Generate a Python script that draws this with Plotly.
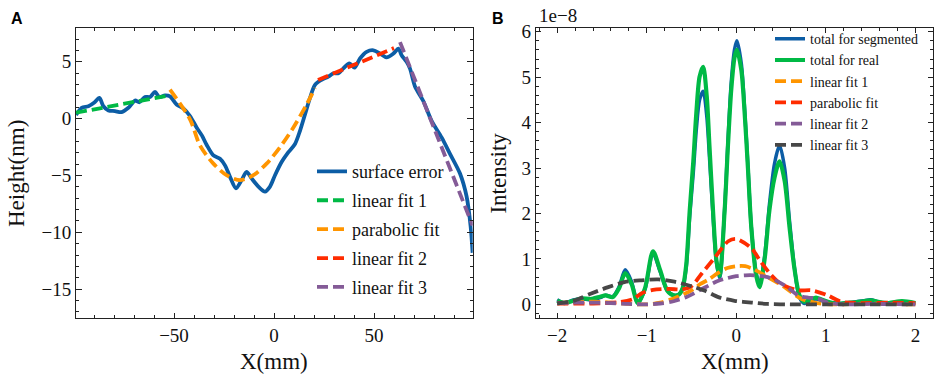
import plotly.graph_objects as go

# ---------------- Panel A data ----------------
surf_x = [-99, -96.2, -92.8, -90, -87.3, -85.3, -82.8, -79.5, -76.2, -72.8, -69.5, -67.3,
          -64.5, -62, -59.5, -57.3, -54.5, -52, -48.7, -45.3, -42, -38.7, -36, -33.7, -30.3,
          -27, -24.5, -22, -19, -16.2, -13.7, -11.2, -7.8, -4.5, -2, 0.5, 3.8, 7.2, 10.5, 13,
          15.5, 18, 20.5, 23.8, 27.2, 29.7, 32.2, 34.7, 37.7, 40.2, 43, 46.3, 49.7, 53, 56.3,
          59.7, 62.2, 63.8, 66.3, 68, 70.5, 74.7, 78.8, 83.8, 88, 93, 96.3, 98.3, 99.3]
surf_y = [0.31, 0.95, 1.09, 1.39, 1.82, 1.09, 0.72, 0.66, 0.57, 0.95, 1.59, 1.44,
          1.9, 1.9, 2.34, 1.9, 2.05, 1.96, 1.24, 0.89, 0.23, -0.78, -1.5, -2.3, -3.24,
          -3.53, -4.11, -5.12, -6.13, -5.41, -4.68, -5.26, -5.98, -6.42, -5.98, -4.98, -3.82, -2.95, -2.23, -1.07,
          0.37, 1.82, 2.97, 3.41, 3.69, 3.99, 3.99, 4.42, 4.86, 4.48, 5.29, 5.87, 6.01, 5.72, 5.38,
          5.72, 6.16, 5.58, 5.0, 4.4, 2.83, 1.53, -0.2, -1.65, -3.1, -4.83, -6.85, -9.45, -11.8]

lin1_x = [-99, -52]
lin1_y = [0.52, 2.05]
para_x = [-52, -42, -37, -30.3, -23.7, -17, -10.3, -3.7, 3, 9.7, 16.3, 20.5]
para_y = [2.54, -0.06, -2.37, -3.96, -4.98, -5.41, -4.98, -3.96, -2.52, -0.78, 1.24, 2.69]
lin2_x = [22, 60]
lin2_y = [3.4, 6.2]
lin3_x = [63, 99.3]
lin3_y = [6.73, -9.4]

# ---------------- Panel B data (units of 1e-8) ----------------
real_x = [-2.0, -1.92, -1.82, -1.73, -1.62, -1.52, -1.46, -1.38, -1.31, -1.24, -1.17, -1.1,
          -1.02, -0.93, -0.85, -0.77, -0.7, -0.64, -0.6, -0.56, -0.52, -0.48, -0.446, -0.41,
          -0.37, -0.33, -0.3, -0.26, -0.223, -0.186, -0.13, -0.093, -0.056, -0.019, 0.007,
          0.056, 0.093, 0.13, 0.167, 0.223, 0.26, 0.316, 0.37, 0.427, 0.483, 0.54, 0.594,
          0.65, 0.706, 0.76, 0.82, 0.89, 0.96, 1.05, 1.17, 1.3, 1.42, 1.5, 1.6, 1.7, 1.85, 2.0]
real_y = [0.08, 0.03, 0.08, 0.13, 0.12, 0.17, 0.2, 0.16, 0.35, 0.69, 0.45, 0.03,
          0.35, 1.17, 0.75, 0.3, 0.2, 0.22, 0.35, 0.85, 2.07, 3.15, 4.22, 5.01,
          5.23, 4.58, 3.5, 2.07, 0.99, 0.63, 2.07, 3.5, 4.73, 5.44, 5.6,
          5.16, 4.22, 3.0, 1.71, 0.63, 0.38, 0.99, 2.07, 2.79, 3.15, 2.72, 1.71,
          0.78, 0.2, 0.06, 0.1, 0.15, 0.1, 0.04, 0.02, 0.04, 0.07, 0.09, 0.05, 0.03, 0.07, 0.03]
seg_y = [0.1, 0.03, 0.1, 0.12, 0.1, 0.15, 0.2, 0.17, 0.38, 0.76, 0.5, 0.03,
         0.33, 1.12, 0.72, 0.3, 0.2, 0.22, 0.35, 0.8, 1.95, 2.9, 3.85, 4.5,
         4.69, 4.15, 3.25, 1.95, 0.95, 0.58, 2.1, 3.6, 4.9, 5.62, 5.8,
         5.3, 4.3, 3.05, 1.72, 0.68, 0.45, 1.05, 2.2, 3.1, 3.5, 3.0, 1.85,
         0.8, 0.15, 0.02, 0.08, 0.12, 0.08, 0.04, 0.02, 0.05, 0.08, 0.1, 0.05, 0.03, 0.05, 0.03]

fit1_x = [-2.0, -1.8, -1.6, -1.4, -1.2, -1.0, -0.85, -0.7, -0.5, -0.4, -0.3, -0.2, -0.1, 0.0,
          0.1, 0.2, 0.35, 0.54, 0.72, 0.9, 1.1, 1.3, 1.5, 1.7, 2.0]
fit1_y = [0.03, 0.05, 0.06, 0.04, 0.01, 0.0, 0.04, 0.13, 0.31, 0.45, 0.56, 0.7, 0.8, 0.84,
          0.84, 0.77, 0.6, 0.38, 0.13, 0.03, 0.0, 0.01, 0.02, 0.01, 0.0]
parab_x = [-2.0, -1.6, -1.3, -1.15, -1.05, -0.93, -0.75, -0.6, -0.5, -0.39, -0.24, -0.09, 0.0,
           0.167, 0.27, 0.38, 0.5, 0.69, 0.84, 1.02, 1.17, 1.4, 1.7, 2.0]
parab_y = [0.02, 0.02, 0.05, 0.12, 0.25, 0.32, 0.34, 0.33, 0.4, 0.67, 1.03, 1.39, 1.44,
           1.24, 0.95, 0.67, 0.45, 0.31, 0.31, 0.2, 0.06, 0.03, 0.04, 0.03]
fit2_x = [-2.0, -1.7, -1.4, -1.2, -1.0, -0.85, -0.7, -0.55, -0.4, -0.2, 0.0, 0.1, 0.2, 0.35,
          0.54, 0.69, 0.8, 0.91, 1.02, 1.2, 1.5, 2.0]
fit2_y = [0.03, 0.04, 0.03, 0.01, 0.0, 0.02, 0.07, 0.17, 0.32, 0.52, 0.62, 0.64, 0.64, 0.6,
          0.42, 0.2, 0.15, 0.13, 0.04, 0.0, 0.01, 0.0]
fit3_x = [-2.0, -1.8, -1.62, -1.43, -1.25, -1.06, -0.87, -0.69, -0.5, -0.35, -0.2, -0.02,
          0.17, 0.35, 0.6, 1.0, 1.5, 2.0]
fit3_y = [0.02, 0.09, 0.24, 0.38, 0.49, 0.53, 0.55, 0.5, 0.4, 0.3, 0.16, 0.08,
          0.04, 0.01, 0.0, 0.0, 0.0, 0.0]

C_BLUE, C_GREEN, C_ORANGE, C_RED, C_PURPLE, C_GRAY = (
    "#0C5DA5", "#00B945", "#FF9500", "#FF2C00", "#845B97", "#474747")
SERIF = "Liberation Serif"
DASH = "11px,5px"

fig = go.Figure()

def add(x, y, name, color, dash, width, xa, ya, legend, grp):
    fig.add_trace(go.Scatter(
        x=x, y=y, mode="lines", name=name,
        line=dict(color=color, width=width, dash=dash, shape="spline", smoothing=0.8),
        xaxis=xa, yaxis=ya, legend=legend, legendgroup=grp))

add(surf_x, surf_y, "surface error", C_BLUE, "solid", 3.8, "x", "y", "legend", "a1")
add(lin1_x, lin1_y, "linear fit 1", C_GREEN, DASH, 3.8, "x", "y", "legend", "a2")
add(para_x, para_y, "parabolic fit", C_ORANGE, DASH, 3.8, "x", "y", "legend", "a3")
add(lin2_x, lin2_y, "linear fit 2", C_RED, DASH, 3.8, "x", "y", "legend", "a4")
add(lin3_x, lin3_y, "linear fit 3", C_PURPLE, DASH, 3.8, "x", "y", "legend", "a5")

add(real_x, seg_y, "total for segmented", C_BLUE, "solid", 3.5, "x2", "y2", "legend2", "b1")
add(real_x, real_y, "total for real", C_GREEN, "solid", 4.2, "x2", "y2", "legend2", "b2")
add(fit1_x, fit1_y, "linear fit 1", C_ORANGE, DASH, 3.8, "x2", "y2", "legend2", "b3")
add(parab_x, parab_y, "parabolic fit", C_RED, DASH, 3.8, "x2", "y2", "legend2", "b4")
add(fit2_x, fit2_y, "linear fit 2", C_PURPLE, DASH, 3.8, "x2", "y2", "legend2", "b5")
add(fit3_x, fit3_y, "linear fit 3", C_GRAY, DASH, 3.8, "x2", "y2", "legend2", "b6")

W, H = 941, 380
AX = "#222222"

def axis(domain, rng, dtick, minor_dtick, anchor):
    return dict(domain=domain, range=rng, dtick=dtick, tick0=0, anchor=anchor,
                showline=True, linecolor=AX, linewidth=1, mirror="allticks",
                ticks="inside", ticklen=5.5, tickwidth=1, tickcolor=AX,
                minor=dict(ticks="inside", ticklen=3, tickwidth=1, tickcolor=AX,
                           dtick=minor_dtick, tick0=0, showgrid=False),
                showgrid=False, zeroline=False,
                tickfont=dict(family=SERIF, size=19, color="#111111"))

ydom = [(H - 317.5) / H, (H - 22) / H]
fig.update_layout(
    width=W, height=H,
    font=dict(family=SERIF, color="#111111"),
    margin=dict(l=0, r=0, t=0, b=0),
    paper_bgcolor="white", plot_bgcolor="white",
    xaxis=axis([76 / W, 472.7 / W], [-99.0, 99.35], 50, 10, "y"),
    yaxis=axis(ydom, [-17.58, 8.0], 5, 1, "x"),
    xaxis2=axis([535.7 / W, 933.3 / W], [-2.24, 2.2], 1, 0.2, "y2"),
    yaxis2=axis(ydom, [-0.31, 6.09], 1, 0.2, "x2"),
    legend=dict(x=312 / W, y=(H - 149.5) / H, xanchor="left", yanchor="top",
                bgcolor="rgba(0,0,0,0)", tracegroupgap=2.5,
                font=dict(family=SERIF, size=18, color="#111111")),
    legend2=dict(x=770 / W, y=(H - 17.5) / H, xanchor="left", yanchor="top",
                 bgcolor="rgba(0,0,0,0)", tracegroupgap=0,
                 font=dict(family=SERIF, size=14, color="#111111")),
    showlegend=True,
)

annots = [
    dict(text="A", x=9 / W, y=(H - 12.5) / H, xanchor="left", yanchor="middle",
         font=dict(family="Liberation Sans", size=16, color="black")),
    dict(text="B", x=490 / W, y=(H - 12.5) / H, xanchor="left", yanchor="middle",
         font=dict(family="Liberation Sans", size=16, color="black")),
    dict(text="1e\u22128", x=537 / W, y=(H - 10) / H, xanchor="left", yanchor="middle",
         font=dict(family=SERIF, size=19, color="#111111")),
    dict(text="X(mm)", x=274 / W, y=(H - 361.5) / H, xanchor="center", yanchor="middle",
         font=dict(family=SERIF, size=23, color="#111111")),
    dict(text="X(mm)", x=735 / W, y=(H - 361.5) / H, xanchor="center", yanchor="middle",
         font=dict(family=SERIF, size=23, color="#111111")),
    dict(text="Height(nm)", x=16.7 / W, y=(H - 170) / H, xanchor="center", yanchor="middle",
         textangle=-90, font=dict(family=SERIF, size=23, color="#111111")),
    dict(text="Intensity", x=498.3 / W, y=(H - 170) / H, xanchor="center", yanchor="middle",
         textangle=-90, font=dict(family=SERIF, size=23, color="#111111")),
]
for a in annots:
    a.update(xref="paper", yref="paper", showarrow=False)
    a["font"]["weight"] = "bold" if a["text"] in ("A", "B") else "normal"
fig.update_layout(annotations=annots)

fig.write_html("out.html", config={"displayModeBar": False},
               post_script="document.body.style.margin='0';document.body.style.overflow='hidden';")
